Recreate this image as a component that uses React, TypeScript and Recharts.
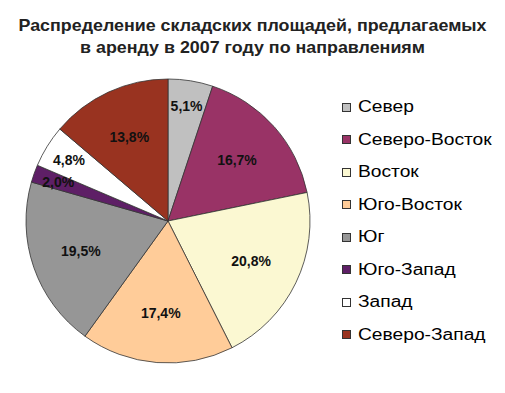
import { PieChart, Pie, Cell, Legend } from "recharts";

// Распределение складских площадей по направлениям, 2007 г.
const regions = ["Север", "Северо-Восток", "Восток", "Юго-Восток", "Юг", "Юго-Запад", "Запад", "Северо-Запад"];
const shares = [5.1, 16.7, 20.8, 17.4, 19.5, 2.0, 4.8, 13.8];
const colors = ["#C0C0C0", "#993366", "#FBF8D2", "#FFCC99", "#969696", "#5E1F66", "#FFFFFF", "#993320"];

const data = regions.map((name, i) => ({ name, value: shares[i] }));

const RAD = Math.PI / 180;
const font = "'Liberation Sans', Arial, sans-serif";

function renderLabel(p: any) {
  // мелкие сектора подписываем ближе к краю, как в Excel
  const r = p.value < 6 ? p.outerRadius * 0.82 : p.outerRadius * 0.65;
  const x = p.cx + r * Math.cos(-p.midAngle * RAD);
  const y = p.cy + r * Math.sin(-p.midAngle * RAD);
  return (
    <text x={x} y={y} textAnchor="middle" dominantBaseline="central" fontSize={14} fontWeight="bold" fill="#111" fontFamily={font}>
      {p.value.toFixed(1).replace(".", ",") + "%"}
    </text>
  );
}

function LegendBox() {
  return (
    <div style={{ fontFamily: font, fontSize: 16, color: "#000" }}>
      {regions.map((name, i) => (
        <div key={name} style={{ height: 32.5, display: "flex", alignItems: "center", whiteSpace: "nowrap" }}>
          <span style={{ width: 7, height: 7, background: colors[i], border: "1px solid #333", marginRight: 7, flex: "none" }} />
          <span style={{ display: "inline-block", transform: "scaleX(1.2)", transformOrigin: "left center" }}>{name}</span>
        </div>
      ))}
    </div>
  );
}

export default function App() {
  return (
    <div style={{ position: "absolute", left: 0, top: 0, width: 505, height: 393, background: "#fff" }}>
      <div
        style={{
          position: "absolute",
          left: 0,
          top: 15,
          width: 505,
          textAlign: "center",
          fontFamily: font,
          fontWeight: "bold",
          fontSize: 17,
          lineHeight: "22px",
          color: "#222",
          transform: "scaleX(1.05)",
          transformOrigin: "252px center",
        }}
      >
        Распределение складских площадей, предлагаемых
        <br />в аренду в 2007 году по направлениям
      </div>
      <PieChart width={505} height={393} style={{ position: "absolute", left: 0, top: 0 }}>
        <Pie
          data={data}
          dataKey="value"
          nameKey="name"
          cx={163}
          cy={216}
          outerRadius={142}
          startAngle={90}
          endAngle={-270}
          stroke="#333"
          strokeWidth={0.8}
          label={renderLabel}
          labelLine={false}
          isAnimationActive={false}
        >
          {data.map((d, i) => (
            <Cell key={d.name} fill={colors[i]} />
          ))}
        </Pie>
        <Legend
          layout="vertical"
          verticalAlign="top"
          align="right"
          content={<LegendBox />}
          wrapperStyle={{ position: "absolute", left: 342, top: 91, width: 160 }}
        />
      </PieChart>
    </div>
  );
}
